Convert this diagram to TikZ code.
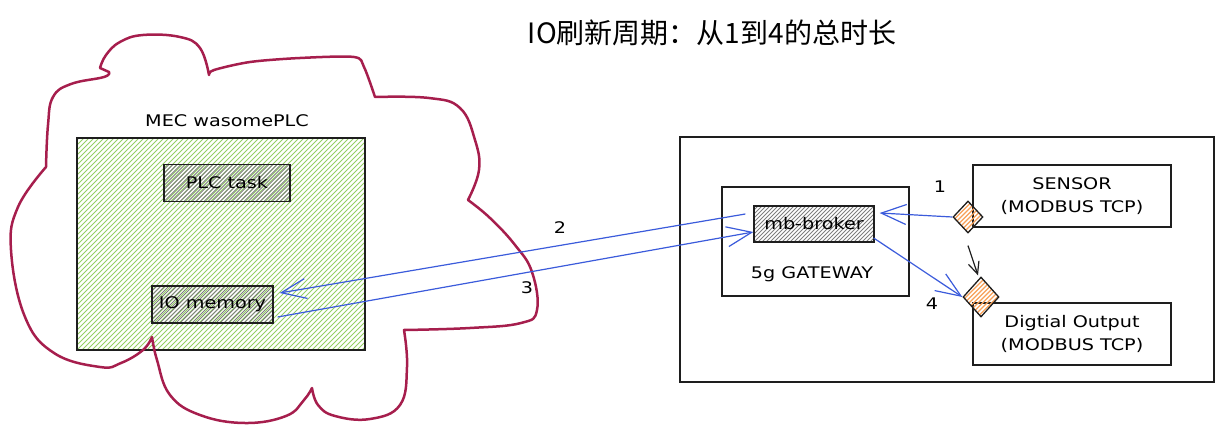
\documentclass[tikz,border=0pt]{standalone}
\usepackage{fontspec}
\newfontfamily\hand[FakeStretch=1.2]{DejaVu Sans}
\newfontfamily\cjk{Noto Sans CJK SC}
\usetikzlibrary{arrows.meta,shapes.geometric}
\definecolor{crimson}{HTML}{A61E4D}
\definecolor{eblue}{HTML}{3B5BDB}
\definecolor{hgreen}{HTML}{94D064}
\definecolor{hgray}{HTML}{7E7E7E}
\definecolor{horange}{HTML}{F7A058}
\definecolor{ink}{HTML}{1E1E1E}
\begin{document}
\begin{tikzpicture}[x=1pt,y=1pt,
  sketchbox/.style={draw=ink,line width=1.3pt,inner sep=0pt,align=center,
    font=\hand\fontsize{16}{23}\selectfont},
  hatch/.style n args={3}{path picture={
    \foreach \k in {0,...,140} {
      \pgfmathsetmacro{\xx}{-260+\k*#2}
      \draw[#1,line width=#3] ([xshift=\xx pt]path picture bounding box.south west) -- ++(300,300);
    }}},
  grayfill/.style={hatch={hgray}{4}{0.8pt}},
  greenfill/.style={hatch={hgreen}{5}{0.9pt}},
  orangefill/.style={hatch={horange}{4.5}{1.3pt}},
  lbl/.style={inner sep=0pt,font=\hand\fontsize{16}{23}\selectfont},
  barrow/.style={draw=eblue,line width=1.2pt,-{Straight Barb[length=25pt,width=20pt]}},
  karrow/.style={draw=ink,line width=1.2pt,-{Straight Barb[length=12pt,width=11pt]}},
  cloudline/.style={draw=crimson,line width=2.5pt,line join=round,line cap=round}]
\useasboundingbox (0,0) rectangle (1224,-433);

% title
\node[inner sep=0pt,font=\cjk\fontsize{28}{32}\selectfont] (title) at (712,-33) {IO刷新周期：从1到4的总时长};

% MEC box
\node[sketchbox,greenfill,minimum width=288,minimum height=212] (mec) at (221,-244) {};
\node[lbl] (meclbl) at (227,-121) {MEC wasomePLC};
\node[sketchbox,grayfill,minimum width=126,minimum height=37] (plc) at (227,-183) {PLC task};
\node[sketchbox,grayfill,minimum width=121,minimum height=37] (io) at (212.5,-304.5) {IO memory};

% cloud
\draw[cloudline]
  plot[smooth,tension=0.7] coordinates {(46,-167)(48,-125)(53,-97)(71,-84)(104,-77)(109,-72)}
  -- (100,-68)
  -- plot[smooth,tension=0.7] coordinates {(100,-68)(106,-55)(120,-42)(143,-35)(180,-37)(200,-48)(209,-75)}
  -- plot[smooth,tension=0.5] coordinates {(209,-75)(214,-70)(250,-62)(300,-58)(354,-57)(364,-67)(375,-97)}
  -- plot[smooth,tension=0.7] coordinates {(375,-97)(429,-98)(460,-108)(475,-140)(479,-170)(468,-200)}
  -- plot[smooth,tension=0.7] coordinates {(468,-200)(490,-218)(515,-245)(532,-272)(537,-310)(521,-323)(470,-328)(404,-330)}
  -- plot[smooth,tension=0.7] coordinates {(404,-330)(407,-367)(400,-405)(370,-419)(335,-416)(318,-405)(312,-388)}
  -- plot[smooth,tension=0.7] coordinates {(312,-388)(304,-400)(286,-416)(245,-423)(200,-415)(170,-395)(157,-360)(152,-337)}
  -- plot[smooth,tension=0.7] coordinates {(152,-337)(143,-350)(121,-363)(100,-367)(54,-353)(25,-317)(11,-250)(18,-207)(46,-167)};

% right side
\node[sketchbox,minimum width=534,minimum height=245] (outer) at (947,-259.5) {};
\node[sketchbox,minimum width=187,minimum height=109] (gw) at (815.5,-241.5) {};
\node[lbl] (gwlbl) at (812,-274) {5g GATEWAY};
\node[sketchbox,grayfill,minimum width=120,minimum height=36] (mb) at (814,-224) {mb-broker};
\node[sketchbox,minimum width=198,minimum height=62] (sensor) at (1072,-196) {SENSOR\\(MODBUS TCP)};
\node[sketchbox,minimum width=198,minimum height=62] (dout) at (1072,-334) {Digtial Output\\(MODBUS TCP)};
\node[sketchbox,orangefill,shape=diamond,minimum width=30,minimum height=32] (d1) at (968,-217) {};
\node[sketchbox,orangefill,shape=diamond,minimum width=36,minimum height=40] (d2) at (981,-297) {};

% connectors
\draw[barrow] ([xshift=-8pt,yshift=10pt]mb.west) -- ([xshift=6pt,yshift=11.5pt]io.east);
\draw[barrow] ([xshift=4pt,yshift=-12.5pt]io.east) -- ([yshift=-8pt]mb.west);
\draw[barrow] (d1.west) -- ([xshift=5pt,yshift=11pt]mb.east);
\draw[barrow] ([xshift=-1pt,yshift=-14pt]mb.east) -- (d2.west);
\draw[karrow] ([yshift=-12pt]d1.south) -- ([xshift=-3pt,yshift=1pt]d2.north);

% labels
\node[lbl] (n1) at (940,-187) {1};
\node[lbl] (n2) at (560,-228) {2};
\node[lbl] (n3) at (527,-288) {3};
\node[lbl] (n4) at (932,-304) {4};
\end{tikzpicture}
\end{document}
